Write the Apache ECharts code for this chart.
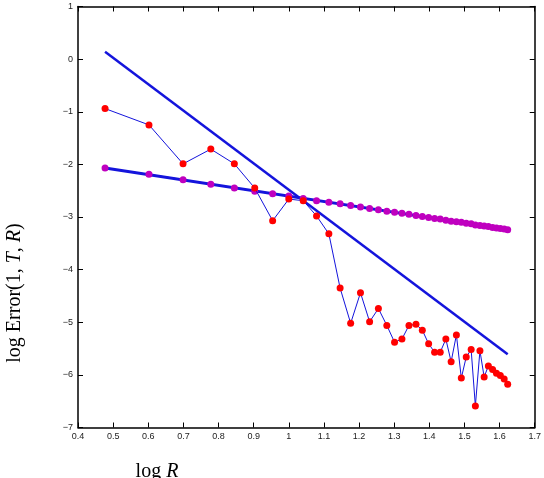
<!DOCTYPE html>
<html>
<head>
<meta charset="utf-8">
<script src="https://cdn.jsdelivr.net/npm/echarts@6/dist/echarts.min.js"></script>
<style>
  html, body { margin: 0; padding: 0; background: #fff; }
  #chart { width: 544px; height: 478px; }
</style>
</head>
<body>
<div id="chart"></div>
<script>
// log R for R = 3 .. 42
const logR = [0.477, 0.602, 0.699, 0.778, 0.845, 0.903, 0.954, 1.000, 1.041, 1.079,
  1.114, 1.146, 1.176, 1.204, 1.230, 1.255, 1.279, 1.301, 1.322, 1.342,
  1.362, 1.380, 1.398, 1.415, 1.431, 1.447, 1.462, 1.477, 1.491, 1.505,
  1.519, 1.531, 1.544, 1.556, 1.568, 1.580, 1.591, 1.602, 1.613, 1.623];
// red points (oscillating error)
const redErr = [-0.94, -1.25, -1.99, -1.71, -1.99, -2.45, -3.07, -2.66, -2.69, -2.98,
  -3.32, -4.35, -5.02, -4.44, -4.99, -4.74, -5.06, -5.38, -5.32, -5.06,
  -5.04, -5.15, -5.41, -5.57, -5.57, -5.32, -5.75, -5.24, -6.06, -5.66,
  -5.52, -6.59, -5.54, -6.04, -5.83, -5.90, -5.97, -6.01, -6.08, -6.18];
// magenta points (smooth error)
const magentaErr = [-2.07, -2.19, -2.29, -2.38, -2.45, -2.51, -2.56, -2.60, -2.65, -2.69,
  -2.72, -2.75, -2.78, -2.81, -2.84, -2.86, -2.89, -2.91, -2.93, -2.95,
  -2.97, -2.99, -3.01, -3.03, -3.04, -3.06, -3.08, -3.09, -3.10, -3.12,
  -3.13, -3.15, -3.16, -3.17, -3.18, -3.20, -3.21, -3.22, -3.23, -3.24];
// reference lines (end points)
const fitX = [0.477, 1.623];
const steepY = [0.14, -5.61];
const shallowY = [-2.07, -3.24];

const blue = '#1414dc';
const zip = (xs, ys) => xs.map((x, i) => [x, ys[i]]);

const chart = echarts.init(document.getElementById('chart'));

const tickCommon = { show: true, inside: true, length: 5, lineStyle: { color: '#000', width: 1 } };
const lineCommon = { show: true, onZero: false, lineStyle: { color: '#000', width: 1.5 } };
const labelFont = { fontFamily: 'Liberation Sans', fontSize: 9, color: '#222' };

const option = {
  animation: false,
  backgroundColor: '#fff',
  grid: { left: 78, top: 6.5, width: 461, height: 421 },
  xAxis: [
    {
      type: 'value', min: 0.4, max: 1.7, interval: 0.1,
      axisLine: lineCommon, axisTick: tickCommon, splitLine: { show: false },
      axisLabel: Object.assign({ margin: 5, formatter: v => String(parseFloat(v.toFixed(1))) }, labelFont)
    },
    {
      type: 'value', position: 'top', min: 0.4, max: 1.7, interval: 0.1,
      axisLine: lineCommon, axisTick: tickCommon, splitLine: { show: false },
      axisLabel: { show: false }
    }
  ],
  yAxis: [
    {
      type: 'value', min: -7, max: 1, interval: 1,
      axisLine: lineCommon, axisTick: tickCommon, splitLine: { show: false },
      axisLabel: Object.assign({ margin: 5, formatter: v => (v < 0 ? '\u2212' + (-v) : String(v)) }, labelFont)
    },
    {
      type: 'value', position: 'right', min: -7, max: 1, interval: 1,
      axisLine: lineCommon, axisTick: tickCommon, splitLine: { show: false },
      axisLabel: { show: false }
    }
  ],
  series: [
    {
      type: 'line', data: zip(fitX, steepY), showSymbol: false, symbol: 'none',
      lineStyle: { color: blue, width: 2.5 }, z: 1
    },
    {
      type: 'line', data: zip(fitX, shallowY), showSymbol: false, symbol: 'none',
      lineStyle: { color: blue, width: 3 }, z: 1
    },
    {
      type: 'line', data: zip(logR, magentaErr), symbol: 'circle', symbolSize: 7,
      itemStyle: { color: '#bf00bf' }, lineStyle: { color: blue, width: 1 }, z: 2
    },
    {
      type: 'line', data: zip(logR, redErr), symbol: 'circle', symbolSize: 7,
      itemStyle: { color: '#ff0000' }, lineStyle: { color: blue, width: 1 }, z: 3
    }
  ],
  graphic: [
    {
      type: 'text', x: 15, y: 293, rotation: Math.PI / 2,
      style: {
        text: '{n|log Error(1, }{i|T}{n|, }{i|R}{n|)}',
        align: 'center', verticalAlign: 'middle',
        rich: {
          n: { fontFamily: 'Liberation Serif', fontSize: 20, fill: '#000' },
          i: { fontFamily: 'Liberation Serif', fontSize: 20, fontStyle: 'italic', fill: '#000' }
        }
      }
    },
    {
      type: 'text', x: 157, y: 472,
      style: {
        text: '{n|log }{i|R}',
        align: 'center', verticalAlign: 'middle',
        rich: {
          n: { fontFamily: 'Liberation Serif', fontSize: 20, fill: '#000' },
          i: { fontFamily: 'Liberation Serif', fontSize: 20, fontStyle: 'italic', fill: '#000' }
        }
      }
    }
  ]
};

chart.setOption(option);
</script>
</body>
</html>
